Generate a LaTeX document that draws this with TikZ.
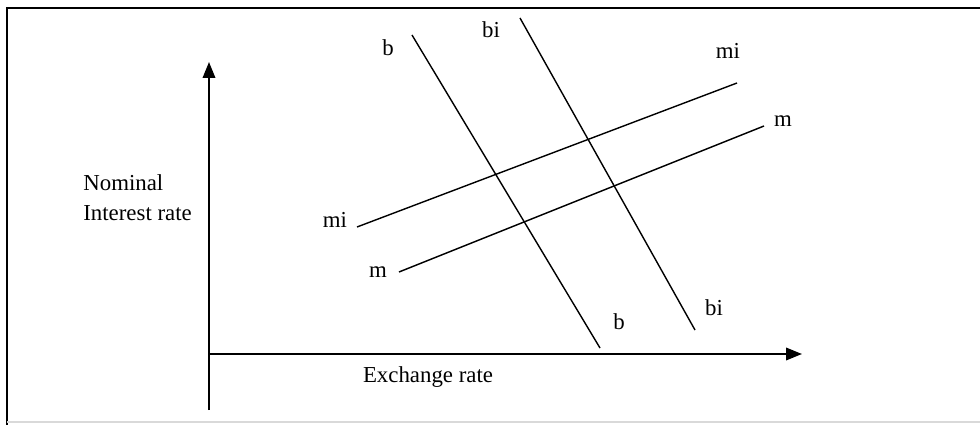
\documentclass[tikz,border=0pt]{standalone}
\usepackage{fontspec}
\setmainfont{Liberation Serif}
\usetikzlibrary{arrows.meta}

\begin{document}
\begin{tikzpicture}[
    x=0.02cm, y=-0.02cm,
    axis/.style={line width=1.1pt, -{Triangle[length=3.2mm, width=2.5mm]}},
    curve/.style={line width=0.8pt},
    frame/.style={line width=0.9pt},
    lbl/.style={font=\fontsize{13}{17}\selectfont, inner sep=0pt},
    title/.style={font=\fontsize{13}{17}\selectfont, align=left, inner sep=0pt}
]
\useasboundingbox (0,0) rectangle (980,425);

% ============================
% FRAME
% ============================
\draw[frame] (7,425) -- (7,8) -- (980,8);
\draw[frame, black!15] (7,422) -- (980,422);

% ============================
% AXES
% ============================
\coordinate (ybot) at (209,410);
\coordinate (origin) at (209,354);
\coordinate (ytip) at (209,62);
\coordinate (xtip) at (802,354);

\draw[axis] (ybot) -- (ytip);
\draw[axis] (origin) -- (xtip);

\node[title, anchor=west] (ylabel) at (83,198) {Nominal\\Interest rate};
\node[lbl] (xlabel) at (428,377) {Exchange rate};

% ============================
% CURVES: b, bi (falling) and m, mi (rising)
% ============================

% --- b ---
\coordinate (bTop) at (412,35);
\coordinate (bBot) at (600,348);
\draw[curve] (bTop) -- (bBot);
\node[lbl] (bTopLbl) at (388,48) {b};
\node[lbl] (bBotLbl) at (619,322) {b};

% --- bi ---
\coordinate (biTop) at (520,18);
\coordinate (biBot) at (695,330);
\draw[curve] (biTop) -- (biBot);
\node[lbl] (biTopLbl) at (491,30) {bi};
\node[lbl] (biBotLbl) at (714,308) {bi};

% --- mi ---
\coordinate (miLeft) at (357,227);
\coordinate (miRight) at (737,83);
\draw[curve] (miLeft) -- (miRight);
\node[lbl] (miLeftLbl) at (335,220) {mi};
\node[lbl] (miRightLbl) at (728,51) {mi};

% --- m ---
\coordinate (mLeft) at (399,272);
\coordinate (mRight) at (764,126);
\draw[curve] (mLeft) -- (mRight);
\node[lbl] (mLeftLbl) at (378,272) {m};
\node[lbl] (mRightLbl) at (783,121) {m};

\end{tikzpicture}
\end{document}
